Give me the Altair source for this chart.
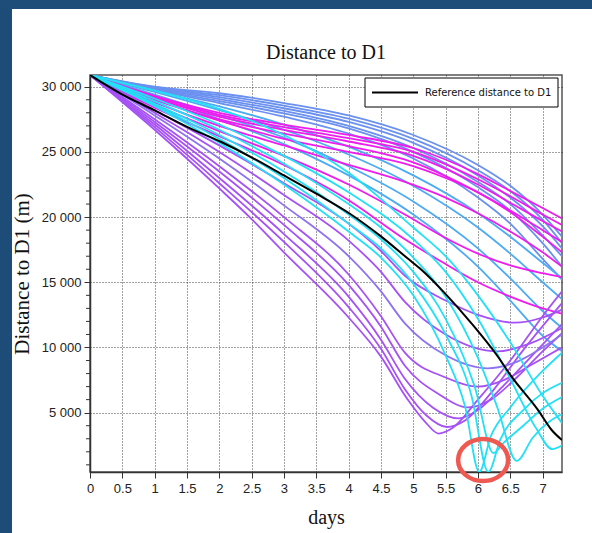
import altair as alt
import pandas as pd

# ---- reference trajectory (black) ----
ref_days = [0, 0.48, 1.0, 1.51, 2.03, 2.52, 3.0, 3.5, 4.02, 4.48, 4.92, 5.13, 5.49, 5.9, 6.31, 6.52, 6.93, 7.14, 7.3]
ref_dist = [30900, 29460, 28190, 26900, 25760, 24530, 23200, 21800, 20260, 18600, 16800, 15940, 14150, 11850, 9290, 7760, 5200, 3670, 2900]

# ---- drifter trajectories, grouped by colour ----
blue_days = [[0, 1, 2, 3, 4, 5, 6, 6.5, 7, 7.3]] * 6
blue_dist = [
    [30900, 30000, 29500, 28750, 27800, 26300, 24000, 22400, 20200, 18500],
    [30900, 29950, 29350, 28550, 27550, 26000, 23600, 22000, 19800, 18000],
    [30900, 29900, 29200, 28350, 27300, 25700, 23200, 21500, 19300, 17600],
    [30900, 29850, 29050, 28150, 27000, 25300, 22700, 21000, 18600, 17000],
    [30900, 29800, 28900, 27950, 26800, 25000, 22300, 20500, 18000, 16200],
    [30900, 29750, 28750, 27700, 26400, 24500, 21500, 19500, 16800, 15200],
]

sky_days = [[0, 1, 2, 3, 4, 5, 6, 6.5, 7, 7.3]] * 4
sky_dist = [
    [30900, 29700, 28500, 27100, 25400, 23200, 20300, 18500, 16500, 15300],
    [30900, 29600, 28200, 26700, 24800, 22400, 19200, 17200, 15000, 13700],
    [30900, 29400, 27800, 26100, 23900, 21200, 17600, 15300, 12800, 11500],
    [30900, 29300, 27500, 25600, 23200, 20200, 16200, 13600, 10900, 9700],
]

magenta_days = [[0, 1, 2, 3, 4, 5, 6, 6.5, 7, 7.3]] * 4 + [[0, 1, 2, 3, 4, 4.87, 5.5, 6, 6.5, 7, 7.3]] * 4
magenta_dist = [
    [30900, 29300, 28000, 27100, 26300, 25300, 23300, 22000, 20700, 19900],
    [30900, 29200, 27850, 26900, 26050, 25000, 22900, 21600, 20200, 19400],
    [30900, 29100, 27700, 26700, 25800, 24700, 22500, 21100, 19700, 18900],
    [30900, 29000, 27500, 26400, 25450, 24200, 21900, 20500, 19000, 18100],
    [30900, 28800, 27000, 25500, 24000, 22700, 21500, 20300, 18900, 17300, 16200],
    [30900, 28600, 26600, 24700, 22500, 20200, 18400, 17200, 16300, 15700, 15400],
    [30900, 28400, 26200, 24000, 21300, 18300, 16400, 15000, 13900, 13000, 12600],
    [30900, 29000, 27400, 26000, 25000, 24100, 23000, 21900, 20400, 18500, 17300],
]

purple_days = [
    [0, 1, 2, 2.5, 3, 4, 4.5, 4.9, 5.2, 5.39, 5.6, 6, 6.5, 7, 7.3],
    [0, 1, 2, 3, 4, 4.5, 4.87, 5.2, 5.52, 5.8, 6.2, 6.7, 7.3],
    [0, 1, 2, 3, 4, 4.5, 4.87, 5.3, 5.7, 6.0, 6.4, 6.9, 7.3],
    [0, 1, 2, 3, 4, 4.5, 4.87, 5.4, 5.85, 6.2, 6.6, 7.0, 7.3],
    [0, 1, 2, 3, 4, 4.5, 4.87, 5.5, 6.0, 6.4, 6.8, 7.3],
    [0, 1, 2, 3, 4, 4.5, 4.87, 5.5, 6.31, 6.8, 7.3],
    [0, 1, 2, 3, 4, 4.5, 4.87, 5.5, 6.0, 6.57, 7.0, 7.3],
]
purple_dist = [
    [30900, 26700, 22200, 19850, 17300, 12300, 9300, 6100, 4200, 3400, 3800, 6000, 9000, 12400, 14300],
    [30900, 26900, 22600, 18100, 13100, 9900, 6800, 4800, 3900, 4400, 6500, 9800, 13400],
    [30900, 27100, 23000, 18700, 13900, 10600, 7600, 5400, 4560, 5200, 7100, 9700, 11800],
    [30900, 27300, 23500, 19400, 14800, 11600, 8600, 6400, 5400, 6000, 7700, 9700, 11100],
    [30900, 27500, 23900, 20000, 15600, 12400, 9600, 7700, 7000, 7500, 8600, 10000],
    [30900, 28000, 25000, 21700, 18200, 15800, 13500, 11000, 9700, 10300, 11500],
    [30900, 28200, 25500, 22600, 19500, 17400, 15500, 13600, 12500, 11900, 12300, 12900],
]

violet_days = [[0, 1, 2, 3, 4, 4.5, 4.87, 5.5, 6.15, 6.6, 7.0, 7.3]]
violet_dist = [
    [30900, 27800, 24500, 20900, 17000, 14300, 11850, 9400, 8400, 8900, 10000, 11000],
]

cyan_days = [
    [0, 1, 2, 3, 4, 4.5, 5, 5.5, 5.8, 6.02, 6.2, 6.5, 7, 7.3],
    [0, 1, 2, 3, 4, 4.5, 5, 5.5, 5.9, 6.16, 6.35, 6.7, 7, 7.3],
    [0, 1, 2, 3, 4, 4.5, 5, 5.5, 5.95, 6.24, 6.4, 6.7, 7, 7.3],
    [0, 1, 2, 3, 4, 4.5, 5, 5.5, 6, 6.3, 6.6, 6.85, 7.1, 7.3],
    [0, 1, 2, 3, 4, 5, 5.5, 6, 6.5, 6.9, 7.15, 7.3],
    [0, 1, 2, 3, 4, 5, 5.5, 6, 6.5, 7, 7.3],
]
cyan_dist = [
    [30900, 28500, 25700, 22500, 18900, 16900, 14000, 9400, 5500, 450, 3200, 5400, 8200, 9600],
    [30900, 28600, 26000, 23000, 19500, 17600, 14900, 11000, 6300, 450, 3000, 5200, 6500, 7300],
    [30900, 28700, 26300, 23500, 20200, 18300, 15800, 12200, 7000, 1900, 2700, 4000, 5300, 6200],
    [30900, 28900, 26700, 24100, 21000, 19200, 16900, 13900, 9200, 5400, 1300, 3100, 4300, 4900],
    [30900, 29100, 27100, 24700, 21900, 18300, 15800, 12200, 7600, 3800, 2200, 2500],
    [30900, 29700, 28300, 26300, 23400, 19200, 17000, 14000, 10400, 6300, 4200],
]

group_colors = {
    "blue": "#6a90f0",
    "sky": "#4cabf3",
    "magenta": "#ee1cee",
    "purple": "#a651f5",
    "violet": "#8f72f0",
    "cyan": "#22e0f5",
}

# highlighted closest approach
mark_day = [6.08]
mark_dist = [1370]

# axis ticks
x_ticks = [0, 0.5, 1, 1.5, 2, 2.5, 3, 3.5, 4, 4.5, 5, 5.5, 6, 6.5, 7]
y_ticks = [5000, 10000, 15000, 20000, 25000, 30000]
y_minor = [1000, 2000, 3000, 4000, 6000, 7000, 8000, 9000, 11000, 12000, 13000, 14000,
           16000, 17000, 18000, 19000, 21000, 22000, 23000, 24000, 26000, 27000, 28000, 29000]

chart_title = "Distance to D1"
legend_label = "Reference distance to D1"

# ---- tidy tables ----
groups = [
    ("blue", blue_days, blue_dist),
    ("sky", sky_days, sky_dist),
    ("magenta", magenta_days, magenta_dist),
    ("purple", purple_days, purple_dist),
    ("violet", violet_days, violet_dist),
    ("cyan", cyan_days, cyan_dist),
]
rows = []
for name, dlist, vlist in groups:
    for i, (ds, vs) in enumerate(zip(dlist, vlist)):
        for d, v in zip(ds, vs):
            rows.append({"curve": f"{name}{i}", "group": name, "day": d, "dist": v})
drifters = pd.DataFrame(rows)
reference = pd.DataFrame({"day": ref_days, "dist": ref_dist})
circle_df = pd.DataFrame({"day": mark_day, "dist": mark_dist})
minor_df = pd.DataFrame({"dist": y_minor})
one = pd.DataFrame({"a": [0]})

W, H = 472, 397
xs = alt.Scale(domain=[0, 7.3], nice=False, zero=False)
ys = alt.Scale(domain=[450, 30900], nice=False, zero=False)

tick_font = "Liberation Sans"
serif = "Liberation Serif"

x_axis = alt.Axis(values=x_ticks, format="~g", title="days", titleFont=serif, titleFontSize=20,
                  titleFontWeight="normal", titleColor="#111", titlePadding=12,
                  labelFont=tick_font, labelFontSize=13, labelColor="#222", labelPadding=4,
                  labelOverlap=False, labelFlush=False,
                  tickSize=6, tickColor="#333", domainColor="#333", domainWidth=1.5,
                  grid=True, gridColor="#222", gridDash=[1, 2], gridWidth=1, gridOpacity=0.85)
y_axis = alt.Axis(values=y_ticks, labelExpr="replace(format(datum.value, ',d'), ',', ' ')",
                  title="Distance to D1 (m)", titleFont=serif, titleFontSize=21,
                  titleFontWeight="normal", titleColor="#111", titlePadding=9,
                  labelFont=tick_font, labelFontSize=13, labelColor="#222", labelPadding=3,
                  labelOverlap=False,
                  tickSize=6, tickColor="#333", domainColor="#333", domainWidth=1.5,
                  grid=True, gridColor="#222", gridDash=[1, 2], gridWidth=1, gridOpacity=0.85)

X = alt.X("day:Q", scale=xs, axis=x_axis)
Y = alt.Y("dist:Q", scale=ys, axis=y_axis)

# slide background strips
left_strip = alt.Chart(one).mark_rect(color="#1d4c78", clip=False).encode(
    x=alt.value(-90), x2=alt.value(-78), y=alt.value(-75), y2=alt.value(H + 61))
top_strip = alt.Chart(one).mark_rect(color="#1f4d79", clip=False).encode(
    x=alt.value(-90), x2=alt.value(W + 30), y=alt.value(-75), y2=alt.value(-66))

title_mark = alt.Chart(pd.DataFrame({"t": [chart_title]})).mark_text(
    font=serif, fontSize=20, color="#111", align="center", baseline="middle").encode(
    x=alt.value(W / 2), y=alt.value(-22), text="t:N")

lines = alt.Chart(drifters).mark_line(strokeWidth=1.8, interpolate="monotone", clip=True).encode(
    x=X, y=Y,
    detail="curve:N",
    color=alt.Color("group:N", scale=alt.Scale(domain=list(group_colors.keys()),
                                                range=list(group_colors.values())), legend=None),
    order="day:Q",
)

ref_line = alt.Chart(reference).mark_line(color="black", strokeWidth=2, interpolate="monotone", clip=True).encode(
    x=X, y=Y)

minor_ticks = alt.Chart(minor_df).mark_rule(color="#333", strokeWidth=1, clip=False).encode(
    x=alt.value(-4), x2=alt.value(0), y=Y)

# legend box
legend_box = alt.Chart(one).mark_rect(fill="white", stroke="black", strokeWidth=1).encode(
    x=alt.value(275), x2=alt.value(468), y=alt.value(3), y2=alt.value(32))
legend_line = alt.Chart(one).mark_rule(color="black", strokeWidth=2).encode(
    x=alt.value(282), x2=alt.value(328), y=alt.value(17.5))
legend_text = alt.Chart(pd.DataFrame({"t": [legend_label]})).mark_text(
    align="left", baseline="middle", font="DejaVu Sans", fontSize=10, color="#111").encode(
    x=alt.value(335), y=alt.value(17.5), text="t:N")

ellipse = "M -1 0 A 1 0.84 0 1 1 1 0 A 1 0.84 0 1 1 -1 0 Z"
circle = alt.Chart(circle_df).mark_point(shape=ellipse, size=2500, filled=False, color="#ee5a52",
                                         strokeWidth=4.5, opacity=1, clip=False).encode(
    x=X, y=Y)

chart = alt.layer(
    left_strip, top_strip, title_mark, lines, ref_line, minor_ticks,
    legend_box, legend_line, legend_text, circle
).properties(
    width=W, height=H,
    padding={"left": 90, "top": 75, "right": 30, "bottom": 61},
    autosize=alt.AutoSizeParams(type="none"),
).configure(background="white").configure_view(stroke="#555", strokeWidth=1.5)

chart.save("out.html", embed_options={"renderer": "svg", "actions": False})
